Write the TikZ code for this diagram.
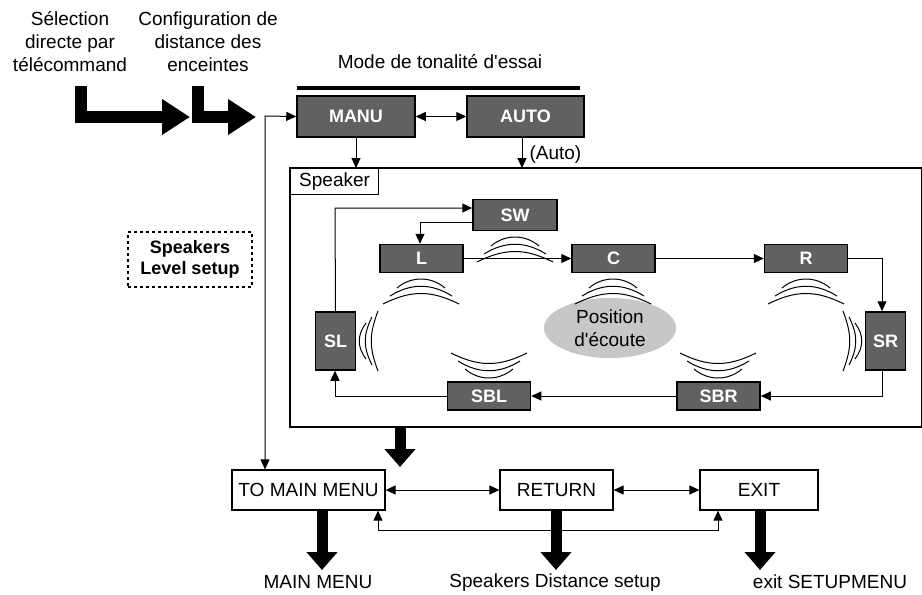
\documentclass[tikz,border=0pt]{standalone}
\usepackage{fontspec}
\setmainfont{Liberation Sans}
\usetikzlibrary{arrows.meta,shapes.geometric}
\begin{document}
\begin{tikzpicture}[x=1pt,y=-1pt,
 dk/.style={draw=black,line width=1.5pt,fill=black!62,text=white,font=\bfseries\fontsize{18}{18}\selectfont,inner sep=0pt},
 wb/.style={draw=black,line width=1.2pt,fill=white,font=\fontsize{19}{19}\selectfont,inner sep=0pt},
 ln/.style={line width=1pt,-{Triangle[width=9pt,length=10pt]}},
 bi/.style={line width=1pt,{Triangle[width=9pt,length=10pt]}-{Triangle[width=9pt,length=10pt]}},
 big/.style={line width=11pt,-{Triangle[width=30pt,length=18pt]}},
 wave/.style={line width=1pt},
 tx/.style={font=\fontsize{19}{23}\selectfont,align=center}]
\useasboundingbox (0,0) rectangle (922,595);
% top texts
\node[tx] (t1) at (70,42) {Sélection\\directe par\\télécommand};
\node[tx] (t2) at (208,42) {Configuration de\\distance des\\enceintes};
\node[tx] (t3) at (440,62) {Mode de tonalité d\textquotesingle essai};
\draw[line width=3.5pt] (297,88) -- (580,88);
% L-shaped thick arrows
\draw[line width=12pt,-{Triangle[width=34pt,length=28pt]}] (81,86) -- (81,117) -- (190,117);
\draw[line width=12pt,-{Triangle[width=34pt,length=28pt]}] (198,86) -- (198,117) -- (256,117);
% MANU AUTO
\node[dk,minimum width=118pt,minimum height=41pt] (manu) at (356,116.5) {MANU};
\node[dk,minimum width=117pt,minimum height=41pt] (auto) at (525.5,116.5) {AUTO};
\draw[bi] (manu) -- (auto);
% speaker frame
\node[draw,line width=2.5pt,minimum width=632pt,minimum height=259pt,inner sep=0pt] (frame) at (606,297.5) {};
\node[wb,minimum width=88pt,minimum height=26pt,anchor=north west] (spk) at (290,168) {Speaker};
\draw[ln] (356,137) -- (356,168);
\draw[ln] (522,137) -- (522,168);
\node[tx,anchor=west] (autol) at (526,155) {(Auto)};
% speakers
\node[dk,minimum width=84pt,minimum height=31pt] (sw) at (515,215) {SW};
\node[dk,minimum width=83pt,minimum height=28pt] (l) at (421.5,258.5) {L};
\node[dk,minimum width=83pt,minimum height=28pt] (c) at (613.5,258.5) {C};
\node[dk,minimum width=83pt,minimum height=28pt] (r) at (806,258.5) {R};
\node[dk,minimum width=40pt,minimum height=58pt] (sl) at (335.5,341) {SL};
\node[dk,minimum width=40pt,minimum height=58pt] (sr) at (885.5,341) {SR};
\node[dk,minimum width=83pt,minimum height=28pt] (sbl) at (489,396) {SBL};
\node[dk,minimum width=83pt,minimum height=28pt] (sbr) at (718.5,396) {SBR};
\node[ellipse,fill=black!22,minimum width=132pt,minimum height=60pt,tx,inner sep=0pt] (pos) at (610,328) {Position\\d\textquotesingle écoute};
\draw[ln] (sl.north) -- (335,208) -- (sw.west|-0,208);
\draw[ln] (sw.west|-0,222) -- (420,222) -- (l.north-|420,0);
\draw[ln] (l) -- (c);
\draw[ln] (c) -- (r);
\draw[ln] (r.east) -- (882,258.5) -- (sr.north-|882,0);
\draw[ln] (sr.south-|882,0) -- (882,396) -- (sbr.east);
\draw[ln] (sbr) -- (sbl);
\draw[ln] (sbl.west) -- (335,396) -- (sl.south-|335,0);
% waves
\foreach \cx/\cy in {515/240, 421/282, 613/282, 806/282}
  \foreach \i in {0,1,2}
    \draw[wave] ({\cx-24-7*\i},{\cy+6+8*\i}) .. controls ({\cx-10},{\cy-6+7*\i}) and ({\cx+10},{\cy-6+7*\i}) .. ({\cx+24+7*\i},{\cy+6+8*\i});
\foreach \cx/\cy in {489/375, 718/375}
  \foreach \i in {0,1,2}
    \draw[wave] ({\cx-24-7*\i},{\cy-6-8*\i}) .. controls ({\cx-10},{\cy+6-7*\i}) and ({\cx+10},{\cy+6-7*\i}) .. ({\cx+24+7*\i},{\cy-6-8*\i});
\foreach \i in {0,1,2} {
  \draw[wave] ({366+6*\i},{341-18-6*\i}) .. controls ({357+6*\i},335) and ({357+6*\i},347) .. ({366+6*\i},{341+18+6*\i});
  \draw[wave] ({855-6*\i},{341-18-6*\i}) .. controls ({864-6*\i},335) and ({864-6*\i},347) .. ({855-6*\i},{341+18+6*\i});
}
% level setup
\node[draw,dashed,line width=1.2pt,minimum width=124pt,minimum height=55pt,align=center,font=\bfseries\fontsize{18}{21}\selectfont,inner sep=0pt] (lvl) at (190,259.5) {Speakers\\Level setup};
% bottom boxes
\node[wb,minimum width=153pt,minimum height=40pt] (tmm) at (308.5,490) {TO MAIN MENU};
\node[wb,minimum width=113pt,minimum height=40pt] (ret) at (556.5,490) {RETURN};
\node[wb,minimum width=118pt,minimum height=40pt] (exit) at (759,490) {EXIT};
\draw[bi] (tmm) -- (ret);
\draw[bi] (ret) -- (exit);
\draw[bi] (tmm.north-|265,0) -- (265,116) -- (manu.west);
\draw[big] (400,428) -- (400,467);
\draw[bi] (tmm.south-|378,0) -- (378,530) -- (718,530) -- (exit.south-|718,0);
\draw[big] (tmm.south-|322,0) -- (322,570);
\draw[big] (ret.south-|556,0) -- (556,570);
\draw[big] (exit.south-|760,0) -- (760,570);
\node[tx] (b1) at (318,582) {MAIN MENU};
\node[tx] (b2) at (555,583) {Speakers Distance setup};
\node[tx] (b3) at (830,582) {exit SETUPMENU};
\end{tikzpicture}
\end{document}
